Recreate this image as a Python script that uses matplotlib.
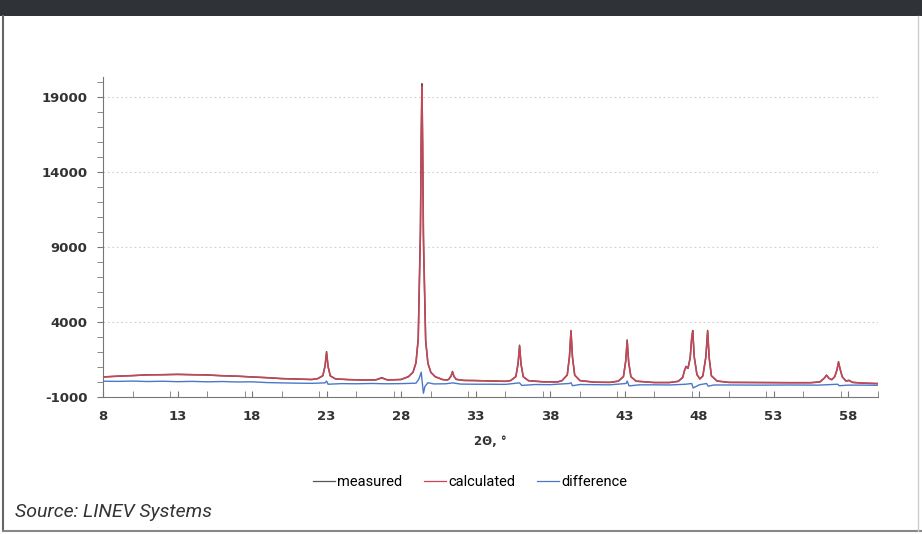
import matplotlib.pyplot as plt
from matplotlib.ticker import MultipleLocator
from matplotlib.lines import Line2D
from matplotlib.patches import Rectangle

plt.rcParams["axes.unicode_minus"] = False

# calculated profile
two_theta = [8.0, 9.0, 10.0, 11.0, 12.0, 13.0, 14.0, 15.0, 16.0, 17.0, 18.0, 19.0, 20.0, 21.0, 22.0,
             22.4, 22.75, 22.9, 23.0, 23.1, 23.25, 23.6, 24.5, 25.5, 26.3, 26.7, 27.1, 28.0,
             28.5, 28.8, 29.0, 29.15, 29.3, 29.35, 29.4, 29.45, 29.5, 29.65, 29.8, 30.0, 30.3, 30.8, 31.1,
             31.2, 31.35, 31.45, 31.55, 31.7, 32.2, 33.0, 34.0, 35.0,
             35.35, 35.7, 35.85, 35.95, 36.05, 36.2, 36.55, 37.5, 38.5,
             38.8, 39.15, 39.3, 39.4, 39.5, 39.65, 40.0, 41.0, 42.0,
             42.57, 42.92, 43.07, 43.17, 43.27, 43.42, 43.77, 45.0, 46.0,
             46.6, 46.9, 47.0, 47.12, 47.25, 47.4, 47.5, 47.57, 47.67, 47.85, 48.05,
             48.25, 48.45, 48.57, 48.67, 48.82, 49.2, 50.0, 52.0, 54.0, 55.5,
             56.1, 56.4, 56.55, 56.7, 56.9, 57.1, 57.25, 57.35, 57.45, 57.6, 57.85, 58.05, 58.3, 59.0, 60.0]
calculated = [340, 380, 430, 470, 490, 500, 490, 460, 420, 380, 340, 280, 230, 190, 170,
              215, 410, 1055, 1950, 1055, 410, 210, 150, 135, 135, 260, 135, 160,
              350, 640, 1260, 2810, 9900, 15780, 19700, 15780, 9900, 2810, 1260, 640, 350, 150, 140,
              180, 380, 650, 380, 180, 110, 90, 70, 40,
              90, 350, 1200, 2380, 1200, 350, 90, 10, 0,
              90, 460, 1675, 3360, 1675, 460, 90, -20, -30,
              50, 355, 1345, 2720, 1345, 355, 50, -40, -40,
              40, 300, 700, 1010, 900, 1600, 2900, 3360, 1700, 500, 200,
              400, 1650, 3360, 1650, 420, 60, -30, -40, -50, -50,
              0, 250, 440, 250, 150, 350, 800, 1300, 900, 350, 60, 100, -30, -80, -110]
measured = [330, 390, 420, 480, 480, 510, 480, 470, 410, 390, 330, 290, 220, 200, 160,
            225, 420, 1080, 2020, 1030, 400, 200, 160, 130, 140, 290, 130, 170,
            360, 650, 1290, 2900, 10300, 16400, 19850, 15300, 9300, 2700, 1240, 630, 340, 160, 130,
            190, 390, 700, 370, 170, 100, 95, 65, 45,
            95, 360, 1250, 2450, 1150, 340, 85, 15, 5,
            95, 470, 1720, 3430, 1630, 450, 95, -15, -25,
            55, 360, 1390, 2800, 1300, 350, 55, -35, -35,
            45, 310, 720, 1040, 910, 1620, 2950, 3430, 1650, 490, 205,
            410, 1690, 3430, 1620, 410, 65, -25, -35, -45, -45,
            5, 260, 460, 240, 155, 360, 830, 1350, 880, 345, 65, 110, -25, -75, -105]

# difference curve
two_theta_diff = [8, 9, 10, 11, 12, 13, 14, 15, 16, 17, 18, 19, 20, 21, 22, 22.9, 23.0, 23.1,
                  24, 25, 26, 27, 28, 29.0, 29.2, 29.35, 29.45, 29.5, 29.6, 29.8, 30.2, 31, 31.45, 32,
                  33, 34, 35, 35.95, 36.1, 37, 38, 39.3, 39.4, 39.5, 40, 41, 42, 43.1, 43.17, 43.3,
                  44, 45, 46, 47.1, 47.5, 47.6, 48, 48.5, 48.6, 49, 50, 52, 54, 56, 57.3, 57.4, 58, 59, 60]
difference = [50, 40, 60, 30, 50, 20, 40, 10, 30, 0, 10, -40, -60, -80, -90, -60, 60, -150,
              -110, -120, -100, -120, -110, -80, 200, 650, -300, -750, -300, -50, -130, -120, -60, -140,
              -150, -150, -160, -60, -230, -170, -180, -100, -50, -250, -170, -180, -190, -100, 60, -260,
              -190, -190, -200, -150, -100, -400, -190, -100, -280, -200, -200, -210, -200, -210, -150, -250, -210, -210, -220]

x_ticks = [8, 13, 18, 23, 28, 33, 38, 43, 48, 53, 58]
y_ticks = [-1000, 4000, 9000, 14000, 19000]

c_meas = "#555555"
c_calc = "#c94456"
c_diff = "#4a78c8"

fig = plt.figure(figsize=(9.22, 5.34), dpi=100)
fig.patch.set_facecolor("white")

# page frame
fig.add_artist(Rectangle((0, 1 - 16 / 534), 1, 16 / 534, transform=fig.transFigure,
                         facecolor="#2f3338", edgecolor="none"))
fig.add_artist(Line2D([3 / 922, 3 / 922], [3 / 534, 1 - 16 / 534], transform=fig.transFigure,
                      color="#666666", lw=1.5))
fig.add_artist(Line2D([3 / 922, 1], [3 / 534, 3 / 534], transform=fig.transFigure,
                      color="#888888", lw=1.5))
fig.add_artist(Line2D([918 / 922, 918 / 922], [3 / 534, 1 - 16 / 534], transform=fig.transFigure,
                      color="#cccccc", lw=1))

ax = fig.add_axes([103 / 922, 1 - 397 / 534, (878 - 103) / 922, (397 - 77) / 534])

ax.plot(two_theta, measured, color=c_meas, lw=1.1, label="measured", zorder=2)
ax.plot(two_theta, calculated, color=c_calc, lw=1.1, label="calculated", zorder=3)
ax.plot(two_theta_diff, difference, color=c_diff, lw=1.0, label="difference", zorder=4)

ax.set_xlim(8, 60)
ax.set_ylim(-1000, 20300)
ax.set_xticks(x_ticks)
ax.xaxis.set_minor_locator(MultipleLocator(2.5))
ax.set_yticks(y_ticks)
ax.yaxis.set_minor_locator(MultipleLocator(1000))

for y in y_ticks[1:]:
    ax.axhline(y, color="#cfcfcf", lw=0.8, ls=(0, (1.5, 2.5)), zorder=1)

for s in ["top", "right"]:
    ax.spines[s].set_visible(False)
for s in ["left", "bottom"]:
    ax.spines[s].set_color("#777777")
    ax.spines[s].set_linewidth(0.8)

ax.tick_params(axis="x", which="both", direction="in", length=4, color="#777777",
               labelsize=9.5, labelcolor="#333333", pad=9)
ax.tick_params(axis="y", which="both", direction="out", length=4, color="#777777",
               labelsize=9.5, labelcolor="#333333", pad=7)
for lab in ax.get_xticklabels() + ax.get_yticklabels():
    lab.set_fontweight("semibold")

ax.set_xlabel("2Θ, °", fontsize=8.5, color="#333333", labelpad=9, fontweight="semibold")

handles = [Line2D([], [], color=c_meas, lw=0.9),
           Line2D([], [], color=c_calc, lw=0.9),
           Line2D([], [], color=c_diff, lw=0.9)]
fig.legend(handles, ["measured", "calculated", "difference"], loc="center",
           bbox_to_anchor=(470 / 922, 1 - 482 / 534), ncol=3, frameon=False,
           handlelength=1.5, handletextpad=0.15, columnspacing=1.5,
           prop={"family": "Roboto", "size": 10.5})

fig.text(15 / 922, 1 - 512 / 534, "Source: LINEV Systems", ha="left", va="center",
         fontsize=14, style="italic", color="#333333", family="Roboto")

fig.savefig("out.png", dpi=100)
